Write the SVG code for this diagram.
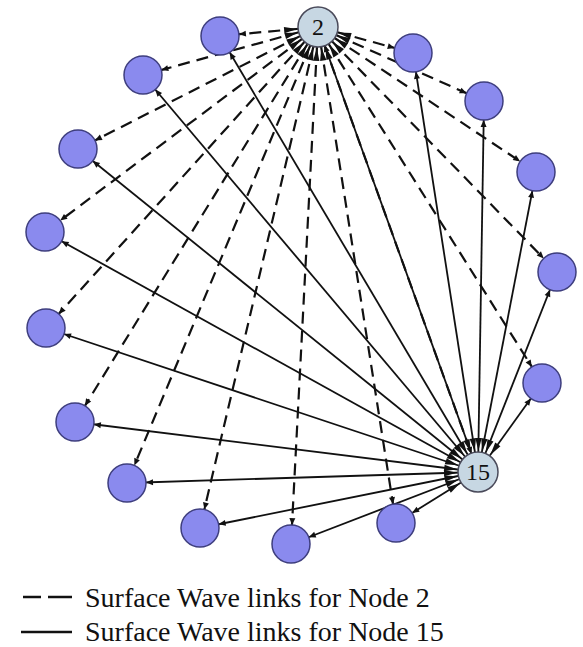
<svg xmlns="http://www.w3.org/2000/svg" width="583" height="647" viewBox="0 0 583 647">
<style>
.n{fill:#8A8AEE;stroke:#3E3E7E;stroke-width:1.5}
.h{fill:#C7D7E3;stroke:#4A4A5A;stroke-width:1.5}
.t{font-family:"Liberation Serif","Times New Roman",serif;font-size:24px;fill:#111;text-anchor:middle}
.lg{font-family:"Liberation Serif","Times New Roman",serif;font-size:28px;fill:#111}
.d{stroke:#111;stroke-width:2.2;stroke-dasharray:12 7;fill:none;marker-start:url(#as);marker-end:url(#ae)}
.s{stroke:#111;stroke-width:1.8;fill:none;marker-start:url(#as);marker-end:url(#ae)}
</style>
<defs>
<marker id="ae" markerUnits="userSpaceOnUse" orient="auto" refX="19" refY="0" markerWidth="30" markerHeight="10" viewBox="-10 -5 30 10" overflow="visible"><path d="M0,0 L-7,-3 L-7,3 Z" fill="#111"/></marker>
<marker id="as" markerUnits="userSpaceOnUse" orient="auto-start-reverse" refX="21" refY="0" markerWidth="30" markerHeight="10" viewBox="-10 -5 30 10" overflow="visible"><path d="M0,0 L-13,-3.2 L-13,3.2 Z" fill="#111"/></marker>
</defs>
<g id="connectors">
<line class="d" x1="318" y1="27" x2="220" y2="36"/>
<line class="d" x1="318" y1="27" x2="143" y2="75"/>
<line class="d" x1="318" y1="27" x2="78" y2="149"/>
<line class="d" x1="318" y1="27" x2="45" y2="232"/>
<line class="d" x1="318" y1="27" x2="46" y2="328"/>
<line class="d" x1="318" y1="27" x2="75" y2="422"/>
<line class="d" x1="318" y1="27" x2="127" y2="483"/>
<line class="d" x1="318" y1="27" x2="200" y2="528"/>
<line class="d" x1="318" y1="27" x2="291" y2="544"/>
<line class="d" x1="318" y1="27" x2="396" y2="523"/>
<line class="d" x1="318" y1="27" x2="478" y2="472"/>
<line class="d" x1="318" y1="27" x2="542" y2="383"/>
<line class="d" x1="318" y1="27" x2="557" y2="272"/>
<line class="d" x1="318" y1="27" x2="536" y2="172"/>
<line class="d" x1="318" y1="27" x2="484" y2="101"/>
<line class="d" x1="318" y1="27" x2="413" y2="53"/>
<line class="s" x1="478" y1="472" x2="318" y2="27"/>
<line class="s" x1="478" y1="472" x2="220" y2="36"/>
<line class="s" x1="478" y1="472" x2="143" y2="75"/>
<line class="s" x1="478" y1="472" x2="78" y2="149"/>
<line class="s" x1="478" y1="472" x2="45" y2="232"/>
<line class="s" x1="478" y1="472" x2="46" y2="328"/>
<line class="s" x1="478" y1="472" x2="75" y2="422"/>
<line class="s" x1="478" y1="472" x2="127" y2="483"/>
<line class="s" x1="478" y1="472" x2="200" y2="528"/>
<line class="s" x1="478" y1="472" x2="291" y2="544"/>
<line class="s" x1="478" y1="472" x2="396" y2="523"/>
<line class="s" x1="478" y1="472" x2="542" y2="383"/>
<line class="s" x1="478" y1="472" x2="557" y2="272"/>
<line class="s" x1="478" y1="472" x2="536" y2="172"/>
<line class="s" x1="478" y1="472" x2="484" y2="101"/>
<line class="s" x1="478" y1="472" x2="413" y2="53"/>
</g>
<g id="node-2"><circle class="h" cx="318" cy="27" r="20"/><text class="t" x="318" y="35">2</text></g>
<g id="node-15"><circle class="h" cx="478" cy="472" r="20"/><text class="t" x="478" y="480">15</text></g>
<g id="node-a"><circle class="n" cx="220" cy="36" r="19"/></g>
<g id="node-b"><circle class="n" cx="143" cy="75" r="19"/></g>
<g id="node-c"><circle class="n" cx="78" cy="149" r="19"/></g>
<g id="node-d"><circle class="n" cx="45" cy="232" r="19"/></g>
<g id="node-e"><circle class="n" cx="46" cy="328" r="19"/></g>
<g id="node-f"><circle class="n" cx="75" cy="422" r="19"/></g>
<g id="node-g"><circle class="n" cx="127" cy="483" r="19"/></g>
<g id="node-h"><circle class="n" cx="200" cy="528" r="19"/></g>
<g id="node-i"><circle class="n" cx="291" cy="544" r="19"/></g>
<g id="node-j"><circle class="n" cx="396" cy="523" r="19"/></g>
<g id="node-k"><circle class="n" cx="542" cy="383" r="19"/></g>
<g id="node-l"><circle class="n" cx="557" cy="272" r="19"/></g>
<g id="node-m"><circle class="n" cx="536" cy="172" r="19"/></g>
<g id="node-o"><circle class="n" cx="484" cy="101" r="19"/></g>
<g id="node-p"><circle class="n" cx="413" cy="53" r="19"/></g>
<g id="legend">
<line x1="23" y1="597" x2="41" y2="597" stroke="#111" stroke-width="2.5"/>
<line x1="48" y1="597" x2="72" y2="597" stroke="#111" stroke-width="2.5"/>
<text class="lg" x="85" y="607">Surface Wave links for Node 2</text>
<line x1="21" y1="632" x2="72" y2="632" stroke="#111" stroke-width="2.5"/>
<text class="lg" x="85" y="641">Surface Wave links for Node 15</text>
</g>
</svg>
